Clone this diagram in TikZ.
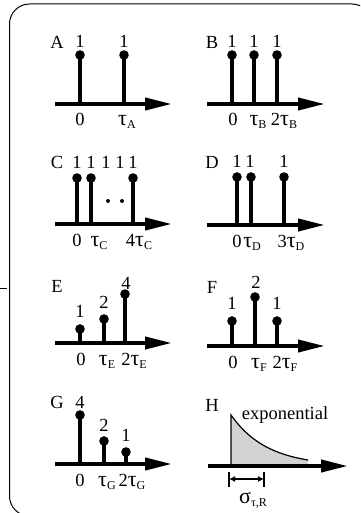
\documentclass[tikz,border=0pt]{standalone}
\usepackage{fontspec}
\setmainfont{Liberation Serif}
\usetikzlibrary{arrows.meta}
\newcommand{\gr}[1]{{\fontsize{22}{22}\selectfont #1}}
\newcommand{\tsub}[2]{#1\raisebox{-3pt}{\fontsize{12}{12}\selectfont #2}}
\begin{document}
\begin{tikzpicture}[x=1pt,y=-1pt,
  lbl/.style={anchor=base,inner sep=0pt,font=\fontsize{18.5}{20}\selectfont},
  axisline/.style={line width=4pt,-{Triangle[length=27pt,width=12pt]}},
  stemline/.style={line width=3.5pt},
  frame/.style={line width=1pt,rounded corners=20pt},
]
\useasboundingbox (0,0) rectangle (360,513);
\begin{scope}
\clip (0,0) rectangle (360,513);
\draw[frame] (9.5,4) rectangle (372,516);
\end{scope}
\draw[line width=1pt] (0,288) -- (7,288);

\newcommand{\stemdot}[3]{\draw[stemline] (#1,#3) -- (#1,#2); \fill (#1,#2) circle (4.8pt);}

% Panel A
\node[lbl] (la) at (57,49) {A};
\node[lbl] (a1) at (80,48) {1};
\node[lbl] (a2) at (124,48) {1};
\stemdot{80}{55}{104}
\stemdot{124}{55}{104}
\draw[axisline] (55,104) -- (172,104);
\node[lbl] (a0) at (80,126) {0};
\node[lbl] (at) at (127,126) {\tsub{\gr{τ}}{A}};

% Panel B
\node[lbl] (lb) at (212,49) {B};
\node[lbl] (b1) at (232,48) {1};
\node[lbl] (b2) at (254,48) {1};
\node[lbl] (b3) at (277,48) {1};
\stemdot{232}{55}{104}
\stemdot{254}{55}{104}
\stemdot{277}{55}{104}
\draw[axisline] (207,104) -- (325,104);
\node[lbl] (b0) at (233,126) {0};
\node[lbl] (bt) at (258,126) {\tsub{\gr{τ}}{B}};
\node[lbl] (bt2) at (284,126) {\tsub{2\gr{τ}}{B}};

% Panel C
\node[lbl] (lc) at (57,168) {C};
\node[lbl] (c1) at (77,168) {1};
\node[lbl] (c2) at (91,168) {1};
\node[lbl] (c3) at (106,168) {1};
\node[lbl] (c4) at (120,168) {1};
\node[lbl] (c5) at (133,168) {1};
\stemdot{77}{178}{224}
\stemdot{91}{178}{224}
\stemdot{133}{178}{224}
\fill (108,201) circle (2pt);
\fill (122,201) circle (2pt);
\draw[axisline] (55,224) -- (172,224);
\node[lbl] (c0) at (77,246) {0};
\node[lbl] (ct) at (99,246) {\tsub{\gr{τ}}{C}};
\node[lbl] (ct4) at (139,246) {\tsub{4\gr{τ}}{C}};

% Panel D
\node[lbl] (ld) at (212,168) {D};
\node[lbl] (d1) at (237,167) {1};
\node[lbl] (d2) at (250,167) {1};
\node[lbl] (d3) at (284,167) {1};
\stemdot{237}{177}{225}
\stemdot{251}{177}{225}
\stemdot{284}{177}{225}
\draw[axisline] (207,225) -- (325,225);
\node[lbl] (d0) at (237,247) {0};
\node[lbl] (dt) at (252,247) {\tsub{\gr{τ}}{D}};
\node[lbl] (dt3) at (291,247) {\tsub{3\gr{τ}}{D}};

% Panel E
\node[lbl] (le) at (57,292) {E};
\node[lbl] (e1) at (80,317) {1};
\node[lbl] (e2) at (104,308) {2};
\node[lbl] (e3) at (126,289) {4};
\stemdot{80}{329}{343}
\stemdot{104}{319}{343}
\stemdot{125}{294}{343}
\draw[axisline] (55,343) -- (172,343);
\node[lbl] (e0) at (81,365) {0};
\node[lbl] (et) at (107,365) {\tsub{\gr{τ}}{E}};
\node[lbl] (et2) at (134,365) {\tsub{2\gr{τ}}{E}};

% Panel F
\node[lbl] (lf) at (212,293) {F};
\node[lbl] (f1) at (232,309) {1};
\node[lbl] (f2) at (256,288) {2};
\node[lbl] (f3) at (277,309) {1};
\stemdot{232}{321}{346}
\stemdot{255}{297}{346}
\stemdot{277}{321}{346}
\draw[axisline] (207,346) -- (325,346);
\node[lbl] (f0) at (233,368) {0};
\node[lbl] (ft) at (259,368) {\tsub{\gr{τ}}{F}};
\node[lbl] (ft2) at (285,368) {\tsub{2\gr{τ}}{F}};

% Panel G
\node[lbl] (lg) at (57,408) {G};
\node[lbl] (g1) at (80,408) {4};
\node[lbl] (g2) at (104,431) {2};
\node[lbl] (g3) at (126,441) {1};
\stemdot{80}{415}{464}
\stemdot{104}{441}{464}
\stemdot{126}{452}{464}
\draw[axisline] (55,464) -- (172,464);
\node[lbl] (g0) at (80,486) {0};
\node[lbl] (gt) at (107,486) {\tsub{\gr{τ}}{G}};
\node[lbl] (gt2) at (132,486) {\tsub{2\gr{τ}}{G}};

% Panel H
\node[lbl] (lh) at (212,411) {H};
\node[lbl] (hexp) at (285,419) {exponential};
\fill[gray!35] (231,466) -- (231,415) -- plot[domain=231:308,samples=50] (\x,{466-51*exp(-(\x-231)/36)}) -- (308,466) -- cycle;
\draw[line width=1.2pt] (231,466) -- (231,415) -- plot[domain=231:308,samples=50] (\x,{466-51*exp(-(\x-231)/36)});
\draw[axisline] (208,466) -- (348,466);
\coordinate (s1) at (229,479);
\coordinate (s2) at (264,479);
\draw[line width=1.2pt] (229,472) -- (229,487);
\draw[line width=1.2pt] (264,472) -- (264,487);
\draw[line width=1.2pt,{Latex[length=6pt,width=6pt]}-{Latex[length=6pt,width=6pt]}] (s1) -- (s2);
\node[lbl] (hs) at (253,503) {\tsub{\gr{σ}}{τ,R}};
\end{tikzpicture}
\end{document}
